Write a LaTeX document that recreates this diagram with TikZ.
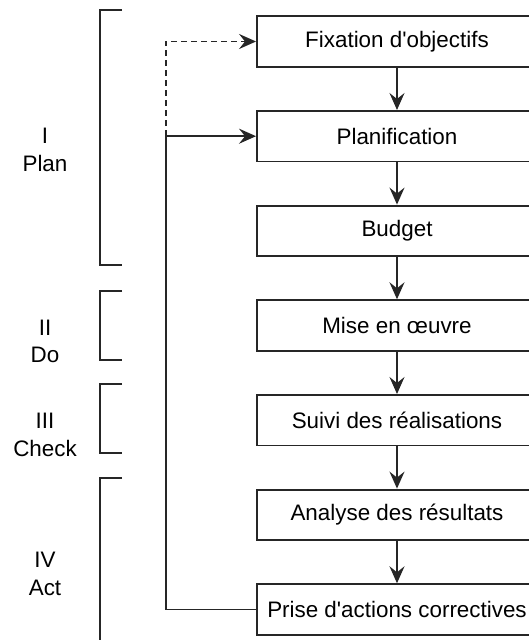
\documentclass[tikz,border=0pt]{standalone}
\usepackage{fontspec}
\setmainfont{Liberation Sans}[Ligatures=TeXOff]
\usetikzlibrary{arrows.meta}
\begin{document}
\begin{tikzpicture}[x=1pt,y=-1pt,
  line width=1.9pt,
  box/.style={draw=black!85, line width=1.9pt, minimum width=280pt, minimum height=50.5pt, inner sep=0pt, font=\fontsize{22.4}{27}\selectfont},
  lbl/.style={inner sep=0pt, anchor=base, font=\fontsize{22.4}{27}\selectfont},
  arr/.style={draw=black!85, line width=1.9pt, -{Stealth[length=17pt,width=15pt,inset=6pt]}},
  brk/.style={draw=black!85, line width=1.9pt}]
\useasboundingbox (0,0) rectangle (529,640);
\clip (0,0) rectangle (529,640);
% boxes
\node[box] (b1) at (397,41.5) {Fixation d'objectifs};
\node[box] (b2) at (397,136.2) {Planification};
\node[box] (b3) at (397,230.8) {Budget};
\node[box] (b4) at (397,325.5) {Mise en œuvre};
\node[box] (b5) at (397,420.2) {Suivi des réalisations};
\node[box] (b6) at (397,514.8) {Analyse des résultats};
\node[box] (b7) at (397,609.5) {Prise d'actions correctives};
% vertical arrows
\draw[arr] (b1) -- (b2);
\draw[arr] (b2) -- (b3);
\draw[arr] (b3) -- (b4);
\draw[arr] (b4) -- (b5);
\draw[arr] (b5) -- (b6);
\draw[arr] (b6) -- (b7);
% feedback loops
\coordinate (lt) at (166,136.2);
\draw[arr] (b7.west) -| (lt) -- (b2.west);
\draw[arr, dash pattern=on 6pt off 4pt] (lt) |- (b1.west);
% brackets
\draw[brk] (122,10) -- (100,10) -- (100,265) -- (122,265);
\draw[brk] (122,291) -- (100,291) -- (100,360) -- (122,360);
\draw[brk] (122,384) -- (100,384) -- (100,453) -- (122,453);
\draw[brk] (122,478) -- (100,478) -- (100,660);
% side labels
\node[lbl] (l1a) at (45,143) {I};
\node[lbl] (l1b) at (45,171) {Plan};
\node[lbl] (l2a) at (45,335) {II};
\node[lbl] (l2b) at (45,362) {Do};
\node[lbl] (l3a) at (45,428) {III};
\node[lbl] (l3b) at (45,456) {Check};
\node[lbl] (l4a) at (45,567) {IV};
\node[lbl] (l4b) at (45,595) {Act};
\end{tikzpicture}
\end{document}
